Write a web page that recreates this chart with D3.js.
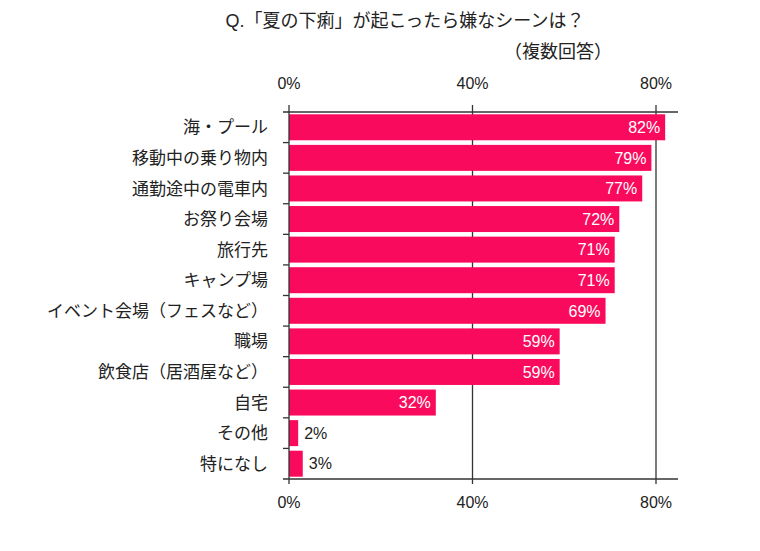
<!DOCTYPE html>
<html><head><meta charset="utf-8">
<script src="https://cdn.jsdelivr.net/npm/d3@7"></script>
<style>body{margin:0;background:#fff}</style></head>
<body><svg id="c" width="760" height="551"></svg>
<script>
const categories=["海・プール","移動中の乗り物内","通勤途中の電車内","お祭り会場","旅行先","キャンプ場","イベント会場（フェスなど）","職場","飲食店（居酒屋など）","自宅","その他","特になし"];
const values=[82,79,77,72,71,71,69,59,59,32,2,3];
const ticks=[0,40,80];
const svg=d3.select("#c");
const font="'Liberation Sans','Noto Sans CJK JP',sans-serif";
const x=d3.scaleLinear().domain([0,80]).range([289,656]);
const y=d3.scaleBand().domain(categories).range([112,479]).paddingInner(0.15).paddingOuter(0.075);
const step=y.step();
// gridlines
svg.selectAll(".g").data(ticks.slice(1)).join("line").attr("x1",d=>x(d)).attr("x2",d=>x(d)).attr("y1",105).attr("y2",484).attr("stroke","#333").attr("stroke-width",1.3);
// bars
svg.selectAll(".b").data(values).join("rect").attr("x",x(0)).attr("y",(d,i)=>y(categories[i])).attr("width",d=>x(d)-x(0)).attr("height",y.bandwidth()).attr("fill","#FA0A5C");
// axes
svg.append("line").attr("x1",283).attr("x2",678).attr("y1",112).attr("y2",112).attr("stroke","#333").attr("stroke-width",1.3);
svg.append("line").attr("x1",283).attr("x2",678).attr("y1",479).attr("y2",479).attr("stroke","#333").attr("stroke-width",1.3);
svg.append("line").attr("x1",289).attr("x2",289).attr("y1",105).attr("y2",484).attr("stroke","#333").attr("stroke-width",1.3);
svg.selectAll(".t").data(d3.range(1,12)).join("line").attr("x1",283).attr("x2",289).attr("y1",d=>112+d*step).attr("y2",d=>112+d*step).attr("stroke","#333").attr("stroke-width",1.3);
// tick labels
[89,508].forEach(ty=>svg.selectAll(null).data(ticks).join("text").attr("x",d=>x(d)).attr("y",ty).attr("text-anchor","middle").attr("font-family",font).attr("font-size",16).attr("fill","#222").text(d=>d+"%"));
// category labels
svg.selectAll(".cl").data(categories).join("text").attr("x",268).attr("y",d=>y(d)+y.bandwidth()/2).attr("dy","0.36em").attr("text-anchor","end").attr("font-family",font).attr("font-size",17).attr("fill","#222").text(d=>d);
// value labels
svg.selectAll(".vl").data(values).join("text").attr("x",d=>d>=10?x(d)-5:x(d)+6).attr("y",(d,i)=>y(categories[i])+y.bandwidth()/2).attr("dy","0.36em").attr("text-anchor",d=>d>=10?"end":"start").attr("font-family",font).attr("font-size",16).attr("fill",d=>d>=10?"#fff":"#222").text(d=>d+"%");
// title
svg.append("text").attr("x",405).attr("y",27).attr("text-anchor","middle").attr("font-family",font).attr("font-size",18).attr("fill","#222").text("Q.「夏の下痢」が起こったら嫌なシーンは？");
svg.append("text").attr("x",612).attr("y",58).attr("text-anchor","end").attr("font-family",font).attr("font-size",18).attr("fill","#222").text("（複数回答）");
</script></body></html>
